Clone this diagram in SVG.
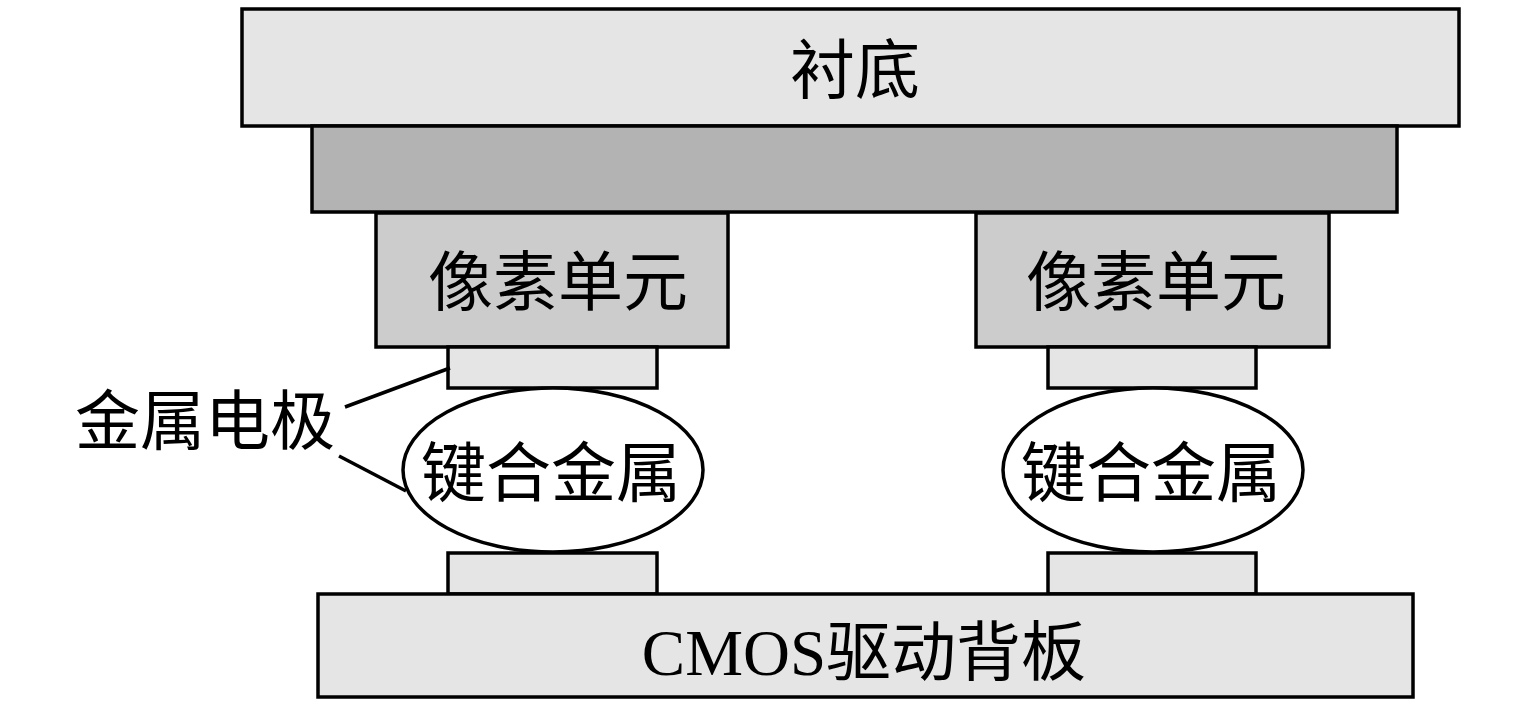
<svg xmlns="http://www.w3.org/2000/svg" width="1535" height="709" viewBox="0 0 1535 709">
<style>
.box{stroke:#000;stroke-width:3.5}
.l1{fill:#e5e5e5}
.l2{fill:#b3b3b3}
.l3{fill:#cccccc}
.t{font-family:"Noto Sans CJK SC","Liberation Serif",serif;font-size:65px;fill:#000;text-anchor:middle}
.lead{stroke:#000;stroke-width:3.5;fill:none}
</style>
<rect width="1535" height="709" fill="#fff"/>
<g id="substrate"><rect class="box l1" x="242" y="9" width="1217" height="117"/><text class="t" x="855" y="93">衬底</text></g>
<g id="layer"><rect class="box l2" x="312" y="126" width="1085" height="86"/></g>
<g id="pixel1"><rect class="box l3" x="376" y="213" width="352" height="134"/><text class="t" x="558" y="305">像素单元</text></g>
<g id="pixel2"><rect class="box l3" x="976" y="213" width="353" height="134"/><text class="t" x="1156" y="305">像素单元</text></g>
<g id="electrode1top"><rect class="box l1" x="448" y="347" width="209" height="41"/></g>
<g id="electrode2top"><rect class="box l1" x="1048" y="347" width="208" height="41"/></g>
<g id="bond1"><ellipse cx="553" cy="470" rx="150" ry="82" fill="#fff" stroke="#000" stroke-width="3.5"/><text class="t" x="551" y="496">键合金属</text></g>
<g id="bond2"><ellipse cx="1153" cy="470" rx="150" ry="82" fill="#fff" stroke="#000" stroke-width="3.5"/><text class="t" x="1151" y="496">键合金属</text></g>
<g id="electrode1bot"><rect class="box l1" x="448" y="553" width="209" height="41"/></g>
<g id="electrode2bot"><rect class="box l1" x="1048" y="553" width="208" height="41"/></g>
<g id="cmos"><rect class="box l1" x="318" y="594" width="1095" height="103"/><text class="t" x="864" y="675"><tspan font-family="Liberation Serif">CMOS</tspan>驱动背板</text></g>
<g id="label"><text class="t" x="205" y="444">金属电极</text></g>
<g id="connectors">
<line class="lead" x1="345" y1="407" x2="450" y2="368"/>
<line class="lead" x1="339" y1="456" x2="406" y2="491"/>
</g>
</svg>
